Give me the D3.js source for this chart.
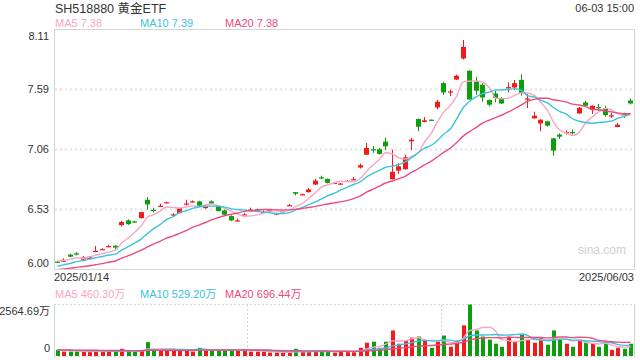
<!DOCTYPE html>
<html>
<head>
<meta charset="utf-8">
<script src="https://cdn.jsdelivr.net/npm/d3@7"></script>
<style>
  body { margin: 0; background: #fff; }
  svg text { font-family: Arial, "Liberation Sans", "Noto Sans CJK SC", sans-serif; }
</style>
</head>
<body>
<svg id="chart" width="640" height="360"></svg>
<script>
// ---- data ----
const title = 'SH518880 黄金ETF';
const timeLabel = '06-03 15:00';
const dateLabels = ['2025/01/14', '2025/06/03'];
const priceTicks = [6.00, 6.53, 7.06, 7.59, 8.11];
const volTicks = [0, 2564.69];
const maPeriods = [5, 10, 20];
const maPriceLegend = [7.38, 7.39, 7.38];
const maVolLegend = [460.30, 529.20, 696.44];

// closes / volumes of the 19 sessions before the window (only feed the moving averages)
const prevClose = [5.95, 5.98, 5.99, 5.96, 5.97, 5.99, 5.98, 5.96, 5.97, 5.93,
  5.95, 5.97, 5.99, 6.00, 6.00, 6.04, 6.06, 6.08, 6.11];
const prevVolume = [310, 290, 335, 300, 280, 320, 345, 300, 290, 315,
  305, 280, 330, 295, 310, 285, 300, 320, 290];

const open = [
  6.067, 6.068, 6.129, 6.140, 6.085, 6.092, 6.156, 6.171, 6.198, 6.208,
  6.390, 6.431, 6.422, 6.451, 6.613, 6.524, 6.554, 6.585, 6.477, 6.495,
  6.573, 6.593, 6.598, 6.539, 6.598, 6.557, 6.519, 6.469, 6.425, 6.477,
  6.520, 6.520, 6.501, 6.516, 6.486, 6.507, 6.560, 6.680, 6.657, 6.680,
  6.747, 6.811, 6.797, 6.756, 6.751, 6.774, 6.789, 6.897, 7.010, 7.058,
  7.058, 7.126, 6.794, 6.870, 6.882, 7.128, 7.325, 7.299, 7.319, 7.427,
  7.641, 7.562, 7.673, 7.858, 7.750, 7.655, 7.627, 7.492, 7.550, 7.510,
  7.600, 7.603, 7.670, 7.501, 7.330, 7.286, 7.304, 7.154, 7.187, 7.204,
  7.210, 7.374, 7.471, 7.404, 7.430, 7.422, 7.351, 7.255, 7.378, 7.488
];
const high = [
  6.070, 6.097, 6.136, 6.152, 6.117, 6.116, 6.205, 6.185, 6.215, 6.211,
  6.426, 6.440, 6.428, 6.507, 6.636, 6.543, 6.578, 6.595, 6.495, 6.545,
  6.613, 6.607, 6.604, 6.563, 6.607, 6.563, 6.528, 6.475, 6.449, 6.495,
  6.543, 6.534, 6.519, 6.528, 6.498, 6.519, 6.574, 6.681, 6.668, 6.717,
  6.797, 6.824, 6.800, 6.765, 6.762, 6.787, 6.813, 6.932, 7.113, 7.088,
  7.070, 7.163, 7.055, 6.935, 7.011, 7.158, 7.328, 7.342, 7.320, 7.495,
  7.653, 7.583, 7.717, 8.022, 7.754, 7.697, 7.641, 7.497, 7.574, 7.517,
  7.647, 7.668, 7.720, 7.545, 7.389, 7.323, 7.310, 7.158, 7.198, 7.225,
  7.231, 7.429, 7.486, 7.444, 7.457, 7.442, 7.378, 7.292, 7.380, 7.506
];
const low = [
  6.059, 6.066, 6.105, 6.123, 6.082, 6.088, 6.154, 6.169, 6.195, 6.176,
  6.378, 6.391, 6.410, 6.448, 6.525, 6.501, 6.551, 6.583, 6.466, 6.492,
  6.563, 6.589, 6.554, 6.533, 6.576, 6.510, 6.475, 6.425, 6.422, 6.475,
  6.519, 6.519, 6.498, 6.512, 6.483, 6.504, 6.557, 6.651, 6.655, 6.677,
  6.743, 6.794, 6.756, 6.753, 6.747, 6.771, 6.786, 6.888, 7.007, 7.026,
  7.011, 7.052, 6.791, 6.841, 6.879, 7.052, 7.216, 7.296, 7.310, 7.409,
  7.536, 7.527, 7.670, 7.849, 7.495, 7.539, 7.477, 7.436, 7.471, 7.457,
  7.559, 7.580, 7.530, 7.422, 7.328, 7.216, 7.257, 7.002, 7.149, 7.187,
  7.187, 7.368, 7.437, 7.369, 7.398, 7.345, 7.334, 7.253, 7.334, 7.453
];
const close = [
  6.062, 6.076, 6.111, 6.135, 6.105, 6.110, 6.162, 6.178, 6.204, 6.191,
  6.416, 6.398, 6.417, 6.504, 6.572, 6.519, 6.560, 6.591, 6.484, 6.539,
  6.580, 6.599, 6.560, 6.557, 6.580, 6.513, 6.481, 6.431, 6.431, 6.484,
  6.527, 6.527, 6.506, 6.521, 6.492, 6.513, 6.565, 6.666, 6.662, 6.704,
  6.782, 6.806, 6.762, 6.762, 6.756, 6.780, 6.794, 6.917, 7.069, 7.052,
  7.017, 7.084, 6.859, 6.908, 6.987, 7.143, 7.257, 7.313, 7.313, 7.477,
  7.559, 7.568, 7.706, 7.961, 7.497, 7.574, 7.515, 7.451, 7.510, 7.462,
  7.606, 7.641, 7.556, 7.506, 7.354, 7.319, 7.266, 7.046, 7.169, 7.210,
  7.204, 7.424, 7.442, 7.442, 7.424, 7.360, 7.357, 7.275, 7.360, 7.462
];
// volume, in 万
const volume = [
  306, 221, 221, 221, 221, 221, 306, 221, 221, 221,
  357, 255, 221, 255, 690, 340, 272, 255, 306, 289,
  289, 221, 408, 289, 289, 289, 289, 289, 289, 289,
  221, 221, 221, 170, 170, 170, 170, 357, 221, 221,
  289, 255, 221, 170, 221, 221, 221, 408, 662, 713,
  408, 713, 1274, 611, 764, 917, 968, 764, 408, 713,
  1019, 459, 764, 1529, 2564.69, 1274, 968, 815, 611, 459,
  968, 713, 1070, 815, 662, 917, 561, 1274, 815, 611,
  459, 764, 713, 611, 459, 611, 306, 408, 357, 611
];

const upColor = '#f21b1b';
const downColor = '#0d9e0d';
const maColors = ['#f7a6c3', '#3cc3de', '#ec4b7e'];
const textColor = '#333';

const svg = d3.select('#chart');
const n = close.length;
const left = 54, right = 634;

function movingAverage(prev, vals, p) {
  const all = prev.concat(vals);
  return vals.map((v, i) => d3.mean(all.slice(i + prev.length - p + 1, i + prev.length + 1)));
}

const x = d3.scaleBand().domain(d3.range(n)).range([left, right]).padding(0);
const cx = i => Math.floor(x(i) + x.bandwidth() / 2);

// ---- header ----
svg.append('text').attr('x', 55).attr('y', 13).attr('font-size', 12.5).attr('fill', textColor).text(title);
svg.append('text').attr('x', 634).attr('y', 12).attr('font-size', 11).attr('text-anchor', 'end')
  .attr('fill', textColor).text(timeLabel);

const legendX = [55, 140, 225];
svg.selectAll('.pleg').data(maPeriods).join('text')
  .attr('x', (d, k) => legendX[k]).attr('y', 27).attr('font-size', 11)
  .attr('fill', (d, k) => maColors[k])
  .text((d, k) => 'MA' + d + ' ' + maPriceLegend[k].toFixed(2));

// ---- price panel ----
const y = d3.scaleLinear().domain([5.998, 8.114]).range([269.5, 29.5]);

svg.append('rect').attr('x', left + 0.5).attr('y', 29.5).attr('width', right - left).attr('height', 240)
  .attr('fill', 'none').attr('stroke', '#d4d4d4');

svg.append('g').selectAll('line').data(priceTicks.slice(1, -1)).join('line')
  .attr('x1', left + 1).attr('x2', right)
  .attr('y1', d => Math.round(y(d)) + 0.5).attr('y2', d => Math.round(y(d)) + 0.5)
  .attr('stroke', '#e2e2e2').attr('stroke-width', 2).attr('stroke-dasharray', '2,3');

const yAxis = svg.append('g').attr('transform', 'translate(49,0)')
  .call(d3.axisLeft(y).tickValues(priceTicks).tickSize(0).tickPadding(0).tickFormat(d3.format('.2f')));
yAxis.select('.domain').remove();
yAxis.selectAll('text').attr('font-size', 11).attr('fill', textColor)
  .attr('font-family', 'Arial, "Liberation Sans", sans-serif')
  .attr('dy', (d, k) => k === 0 ? '-0.22em' : (k === priceTicks.length - 1 ? '0.85em' : '0.32em'));

svg.append('text').attr('x', 602).attr('y', 254).attr('text-anchor', 'middle')
  .attr('font-size', 12).attr('fill', '#d0d0d0').text('sina.com');

svg.append('defs').append('clipPath').attr('id', 'clipP')
  .append('rect').attr('x', left + 1).attr('y', 30).attr('width', right - left - 1).attr('height', 239);

const candles = svg.append('g').selectAll('g').data(d3.range(n)).join('g');
candles.append('line')
  .attr('x1', i => cx(i) + 0.5).attr('x2', i => cx(i) + 0.5)
  .attr('y1', i => y(high[i])).attr('y2', i => y(low[i]))
  .attr('stroke', i => close[i] >= open[i] ? upColor : downColor);
candles.append('rect')
  .attr('x', i => cx(i) - 2).attr('width', 5)
  .attr('y', i => y(Math.max(open[i], close[i])))
  .attr('height', i => Math.max(1.2, Math.abs(y(open[i]) - y(close[i]))))
  .attr('fill', i => close[i] >= open[i] ? upColor : downColor);

const priceLine = d3.line().x((d, i) => cx(i) + 0.5).y(d => y(d)).curve(d3.curveMonotoneX);
svg.append('g').attr('clip-path', 'url(#clipP)').selectAll('path')
  .data(maPeriods.map(p => movingAverage(prevClose, close, p))).join('path')
  .attr('d', priceLine).attr('fill', 'none')
  .attr('stroke', (d, k) => maColors[k]).attr('stroke-width', 1.4);

svg.append('text').attr('x', left).attr('y', 281).attr('font-size', 11).attr('fill', textColor).text(dateLabels[0]);
svg.append('text').attr('x', right).attr('y', 281).attr('font-size', 11).attr('text-anchor', 'end')
  .attr('fill', textColor).text(dateLabels[1]);

// ---- volume panel ----
svg.selectAll('.vleg').data(maPeriods).join('text')
  .attr('x', (d, k) => legendX[k]).attr('y', 298).attr('font-size', 11)
  .attr('fill', (d, k) => maColors[k])
  .text((d, k) => 'MA' + d + ' ' + maVolLegend[k].toFixed(2) + '万');

const yv = d3.scaleLinear().domain([0, volTicks[1]]).range([356, 304.5]);

const vGrid = svg.append('g').attr('stroke', '#d6d6d6').attr('stroke-dasharray', '2,2');
vGrid.append('line').attr('x1', left).attr('x2', right + 1).attr('y1', 304.5).attr('y2', 304.5);
vGrid.append('line').attr('x1', left).attr('x2', right + 1).attr('y1', 356.5).attr('y2', 356.5);
vGrid.selectAll('.vx').data([1, 2]).join('line')
  .attr('x1', k => Math.round(left + (right - left) * k / 3) + 0.5)
  .attr('x2', k => Math.round(left + (right - left) * k / 3) + 0.5)
  .attr('y1', 305).attr('y2', 356);
svg.append('g').attr('stroke', '#d4d4d4').selectAll('line').data([left, right]).join('line')
  .attr('x1', d => d + 0.5).attr('x2', d => d + 0.5).attr('y1', 304).attr('y2', 357);

const vAxis = svg.append('g').attr('transform', 'translate(50,0)')
  .call(d3.axisLeft(yv).tickValues(volTicks).tickSize(0).tickPadding(0)
    .tickFormat(d => d === 0 ? '0' : d3.format('.2f')(d) + '万'));
vAxis.select('.domain').remove();
vAxis.selectAll('text').attr('font-size', 11).attr('fill', textColor)
  .attr('font-family', 'Arial, "Liberation Sans", "Noto Sans CJK SC", sans-serif')
  .attr('dy', (d, k) => k === 0 ? '-0.4em' : '0.9em');

svg.append('g').selectAll('rect').data(d3.range(n)).join('rect')
  .attr('x', i => cx(i) - 1).attr('width', 4)
  .attr('y', i => yv(volume[i]))
  .attr('height', i => yv(0) - yv(volume[i]))
  .attr('fill', i => close[i] >= open[i] ? upColor : downColor);

const volLine = d3.line().x((d, i) => cx(i) + 0.5).y(d => yv(d)).curve(d3.curveMonotoneX);
svg.append('g').selectAll('path')
  .data(maPeriods.map(p => movingAverage(prevVolume, volume, p))).join('path')
  .attr('d', volLine).attr('fill', 'none')
  .attr('stroke', (d, k) => maColors[k]).attr('stroke-width', 1.4);
</script>
</body>
</html>
